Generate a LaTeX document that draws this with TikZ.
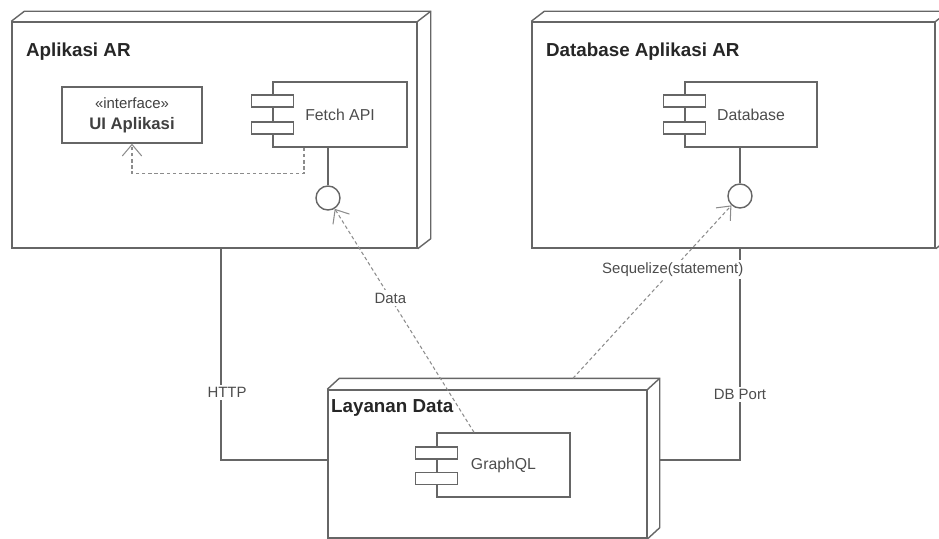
\documentclass[tikz,border=0pt]{standalone}
\usepackage{fontspec}
\setmainfont{Liberation Sans}
\usetikzlibrary{arrows.meta, positioning}

\tikzset{
  box/.style={draw=black!60, line width=0.8pt, inner sep=0pt},
  devtitle/.style={anchor=base west, inner sep=1pt, font=\fontsize{10.7}{12}\selectfont\bfseries, text=black!85},
  comptext/.style={font=\fontsize{9}{11}\selectfont, text=black!70},
  port/.style={draw=black!60, line width=0.8pt, fill=white, minimum width=8.4mm, minimum height=2.4mm, inner sep=0pt},
  lolli/.style={draw=black!60, line width=0.8pt, fill=white, circle, minimum size=4.8mm, inner sep=0pt},
  link/.style={draw=black!60, line width=0.8pt},
  dep/.style={draw=black!45, dash pattern=on 2pt off 1.5pt, line width=0.6pt, -{Straight Barb[length=6.5pt, width=11pt]}},
  lbl/.style={fill=white, inner sep=1.5pt, font=\fontsize{8.5}{10}\selectfont, text=black!70},
}

\begin{document}
\begin{tikzpicture}[x=0.2mm, y=-0.2mm]
\useasboundingbox (0,0) rectangle (939,539);
\clip (0,0) rectangle (939,539);

\node[box, minimum width=81mm, minimum height=45.2mm] (app) at (214.5,135) {};
\draw[box] (app.north west) -- ++(13,-10) -- ([shift={(13,-10)}]app.north east) -- ([shift={(13,-10)}]app.south east) -- (app.south east);
\draw[box] (app.north east) -- ++(13,-10);
\node[devtitle] (apptitle) at (24,56) {Aplikasi AR};

\node[box, minimum width=80.6mm, minimum height=45.2mm] (db) at (733.5,135) {};
\draw[box] (db.north west) -- ++(13,-10) -- ([shift={(13,-10)}]db.north east) -- ([shift={(13,-10)}]db.south east) -- (db.south east);
\draw[box] (db.north east) -- ++(13,-10);
\node[devtitle] (dbtitle) at (544,56) {Database Aplikasi AR};

\node[box, minimum width=63.8mm, minimum height=29.6mm] (svc) at (487.5,464) {};
\draw[box] (svc.north west) -- ++(12,-11) -- ([shift={(12,-11)}]svc.north east) -- ([shift={(12,-11)}]svc.south east) -- (svc.south east);
\draw[box] (svc.north east) -- ++(12,-11);
\node[devtitle] (svctitle) at (329,412) {Layanan Data};

\node[box, minimum width=28mm, minimum height=11.2mm, align=center, text=black!75] (ui) at (132,115)
  {\fontsize{8.5}{8.8}\selectfont «interface»\\\fontsize{9.5}{9}\selectfont\bfseries UI Aplikasi};

\node[box, comptext, minimum width=26.8mm, minimum height=13mm] (fetch) at (340,114.5) {Fetch API};
\node[port] (fetchp1) at ([shift={(0,-13.5)}]fetch.west) {};
\node[port] (fetchp2) at ([shift={(0,13.5)}]fetch.west) {};
\node[lolli] (fetchlol) at (328,198) {};

\node[box, comptext, minimum width=26.4mm, minimum height=13mm] (dbc) at (751,114.5) {Database};
\node[port] (dbcp1) at ([shift={(0,-13.5)}]dbc.west) {};
\node[port] (dbcp2) at ([shift={(0,13.5)}]dbc.west) {};
\node[lolli] (dblol) at (740,196) {};

\node[box, comptext, minimum width=26.6mm, minimum height=12.8mm] (gql) at (503.5,465) {GraphQL};
\node[port] (gqlp1) at ([shift={(0,-12)}]gql.west) {};
\node[port] (gqlp2) at ([shift={(0,13.5)}]gql.west) {};

\draw[link] (fetchlol |- fetch.south) -- (fetchlol);
\draw[link] (dblol |- dbc.south) -- (dblol);
\draw[dep] ([shift={(-36,0)}]fetch.south) -- ++(0,26) -| (ui.south);

\draw[link] ([shift={(6.5,0)}]app.south) |- node[lbl, pos=0.34, xshift=1.2mm] {HTTP} ([shift={(0,-4)}]svc.west);
\draw[link] ([shift={(12,-4)}]svc.east) -| node[lbl, pos=0.655] {DB Port} ([shift={(6.5,0)}]db.south);

\draw[dep] ([shift={(-29.5,0)}]gql.north) -- node[lbl, pos=0.6] {Data} (fetchlol);
\draw[dep] ([shift={(85.5,-11)}]svc.north) -- node[lbl, pos=0.63] {Sequelize(statement)} (dblol);
\end{tikzpicture}
\end{document}
